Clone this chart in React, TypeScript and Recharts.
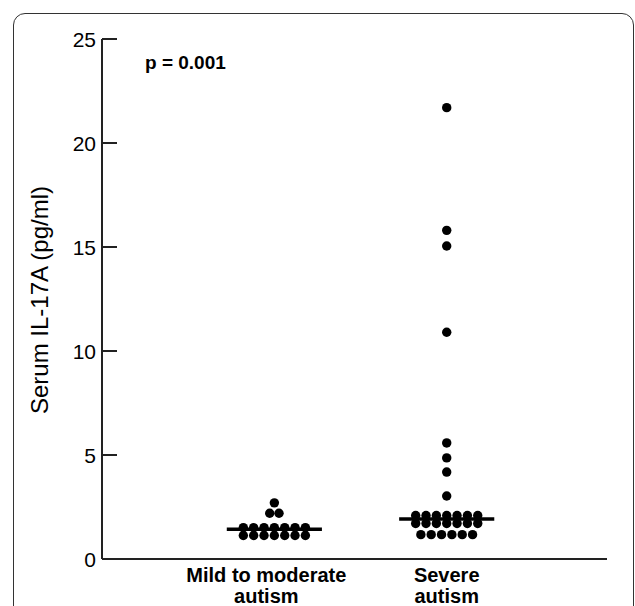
import React from 'react';
import { ScatterChart, Scatter, XAxis, YAxis, ReferenceLine } from 'recharts';

const groupLabels = [['Mild to moderate', 'autism'], ['Severe', 'autism']];
const groupPos = [1, 2];
const yTicks = [0, 5, 10, 15, 20, 25];

// serum IL-17A values (pg/ml) and horizontal offsets (in dot widths) of the swarm
const mildValues = [1.13, 1.13, 1.13, 1.13, 1.13, 1.13, 1.13, 1.51, 1.51, 1.51, 1.51, 1.51, 1.51, 1.51, 2.2, 2.2, 2.7];
const mildOffsets = [-3, -2, -1, 0, 1, 2, 3, -3, -2, -1, 0, 1, 2, 3, -0.45, 0.45, 0];
const severeValues = [1.17, 1.17, 1.17, 1.17, 1.17, 1.17, 1.71, 1.71, 1.71, 1.71, 1.71, 1.71, 1.71, 2.09, 2.09, 2.09, 2.09, 2.09, 2.09, 2.09, 3.03, 4.18, 4.86, 5.58, 10.9, 15.05, 15.8, 21.7];
const severeOffsets = [-2.5, -1.5, -0.5, 0.5, 1.5, 2.5, -3, -2, -1, 0, 1, 2, 3, -3, -2, -1, 0, 1, 2, 3, 0, 0, 0, 0, 0, 0, 0, 0];
const medians = [1.43, 1.92];

const DOT_STEP = 0.06;
const HALF_BAR = 0.276;
const LABEL_DX = [-8, 0];
const FONT = '"Liberation Sans", Arial, sans-serif';

const toPoints = (vals: number[], offs: number[], center: number) =>
  vals.map((v, i) => ({ x: center + offs[i] * DOT_STEP, y: v }));

const Dot = (p: any) => <circle cx={p.cx} cy={p.cy} r={4.7} fill="#000" />;

const YTick = ({ x, y, payload }: any) => (
  <g>
    <line x1={x} x2={x + 15} y1={y} y2={y} stroke="#222" strokeWidth={2} />
    <text x={x - 6} y={y} textAnchor="end" dominantBaseline="central" fontSize={21} fill="#000" fontFamily={FONT}>
      {payload.value}
    </text>
  </g>
);

const XTick = ({ x, y, payload }: any) => {
  const idx = groupPos.indexOf(payload.value);
  const lines = groupLabels[idx] || [];
  const dx = LABEL_DX[idx] || 0;
  return (
    <text textAnchor="middle" fontSize={20} fontWeight="bold" fill="#000" fontFamily={FONT}>
      {lines.map((t, i) => (
        <tspan key={i} x={x + dx} y={y + 23 + i * 21}>{t}</tspan>
      ))}
    </text>
  );
};

export default function App() {
  const mild = toPoints(mildValues, mildOffsets, groupPos[0]);
  const severe = toPoints(severeValues, severeOffsets, groupPos[1]);
  return (
    <div style={{ position: 'absolute', left: 0, top: 0, width: 635, height: 606, overflow: 'hidden', background: '#fff', fontFamily: FONT }}>
      <div style={{ position: 'absolute', left: 13, top: 13, width: 619, height: 640, border: '1.5px solid #333', borderRadius: 12 }} />
      <ScatterChart width={635} height={606} margin={{ top: 39, right: 28, bottom: 0, left: 22 }}>
        <XAxis type="number" dataKey="x" domain={[0, 2.93]} ticks={groupPos} tick={<XTick />} tickLine={false}
          tickSize={0} tickMargin={0} height={47} axisLine={{ stroke: '#222', strokeWidth: 2 }} allowDataOverflow />
        <YAxis type="number" dataKey="y" domain={[0, 25]} ticks={yTicks} tick={<YTick />} tickLine={false}
          tickSize={0} tickMargin={0} width={80} axisLine={{ stroke: '#222', strokeWidth: 2 }} allowDataOverflow />
        {medians.map((m, i) => (
          <ReferenceLine key={i} segment={[{ x: groupPos[i] - HALF_BAR, y: m }, { x: groupPos[i] + HALF_BAR, y: m }]}
            stroke="#000" strokeWidth={3.5} />
        ))}
        <Scatter data={mild} shape={Dot} isAnimationActive={false} />
        <Scatter data={severe} shape={Dot} isAnimationActive={false} />
      </ScatterChart>
      <div style={{ position: 'absolute', left: 145, top: 52, fontSize: 19, fontWeight: 'bold', color: '#000', whiteSpace: 'nowrap' }}>
        p = 0.001
      </div>
      <div style={{ position: 'absolute', left: 40, top: 300, fontSize: 24, color: '#000', whiteSpace: 'nowrap', transform: 'translate(-50%, -50%) rotate(-90deg)' }}>
        Serum IL-17A (pg/ml)
      </div>
    </div>
  );
}
